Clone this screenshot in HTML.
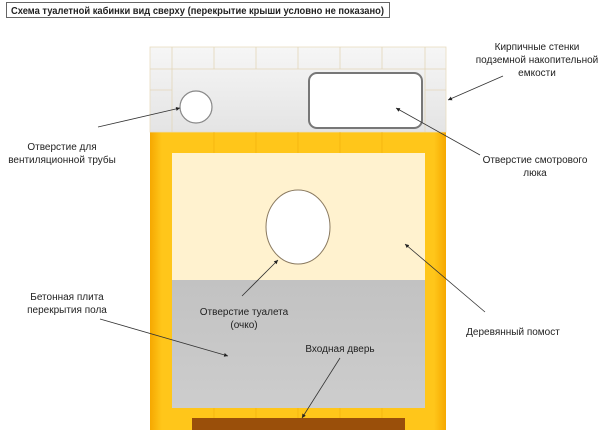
<!DOCTYPE html>
<html><head><meta charset="utf-8"><style>
body{margin:0;width:600px;height:433px;background:#fff;overflow:hidden}
svg text{font-family:"Liberation Sans",sans-serif;font-size:10px;fill:#222}
</style></head><body>
<svg width="600" height="433" xmlns="http://www.w3.org/2000/svg">
<defs>
<linearGradient id="gt" x1="0" y1="0" x2="0" y2="1"><stop offset="0" stop-color="#f6f6f6"/><stop offset="1" stop-color="#e4e4e4"/></linearGradient>
<linearGradient id="gc" x1="0" y1="0" x2="0" y2="1"><stop offset="0" stop-color="#c2c2c2"/><stop offset="1" stop-color="#cdcdcd"/></linearGradient>
<linearGradient id="go" x1="0" y1="0" x2="1" y2="0"><stop offset="0" stop-color="#f6a800"/><stop offset="0.04" stop-color="#ffc61a"/><stop offset="0.96" stop-color="#ffc61a"/><stop offset="1" stop-color="#f6a800"/></linearGradient>
<marker id="a" markerWidth="6" markerHeight="6" refX="5" refY="3" orient="auto"><path d="M0,0.5 L5,3 L0,5.5z" fill="#222"/></marker>
</defs>
<rect x="6.5" y="2.5" width="383" height="15" fill="#fff" stroke="#666"/>
<text x="11" y="14" textLength="373" lengthAdjust="spacingAndGlyphs" style="font-weight:bold;font-size:10.5px">Схема туалетной кабинки вид сверху (перекрытие крыши условно не показано)</text>
<rect x="150" y="47" width="296" height="383" fill="url(#go)"/>
<rect x="150" y="47" width="296" height="85" fill="url(#gt)" stroke="#e8dcc0" stroke-width="0.8"/>
<g stroke="#e3d6b8" stroke-width="0.8">
<line x1="150" y1="69" x2="446" y2="69"/><line x1="150" y1="90" x2="172" y2="90"/><line x1="425" y1="90" x2="446" y2="90"/>
<line x1="172" y1="47" x2="172" y2="132"/><line x1="425" y1="47" x2="425" y2="132"/>
<line x1="214" y1="47" x2="214" y2="69"/><line x1="256" y1="47" x2="256" y2="69"/><line x1="298" y1="47" x2="298" y2="69"/><line x1="340" y1="47" x2="340" y2="69"/><line x1="382" y1="47" x2="382" y2="69"/>
</g>
<g stroke="#e89e00" stroke-width="0.6" opacity="0.6">
<line x1="214" y1="132" x2="214" y2="153"/><line x1="256" y1="132" x2="256" y2="153"/><line x1="298" y1="132" x2="298" y2="153"/><line x1="340" y1="132" x2="340" y2="153"/><line x1="382" y1="132" x2="382" y2="153"/>
<line x1="214" y1="408" x2="214" y2="418"/><line x1="256" y1="408" x2="256" y2="418"/><line x1="298" y1="408" x2="298" y2="418"/><line x1="340" y1="408" x2="340" y2="418"/><line x1="382" y1="408" x2="382" y2="418"/>
</g>
<rect x="172" y="153" width="253" height="127" fill="#fff2cf"/>
<rect x="172" y="280" width="253" height="128" fill="url(#gc)"/>
<rect x="192" y="418" width="213" height="12" fill="#9a4f0a"/>
<circle cx="196" cy="107" r="16" fill="#fff" stroke="#888" stroke-width="1.2"/>
<rect x="309" y="73" width="113" height="55" rx="8" fill="#fff" stroke="#777" stroke-width="2"/>
<ellipse cx="298" cy="227" rx="32" ry="37" fill="#fff" stroke="#8a7a60" stroke-width="1"/>
<g stroke="#333" stroke-width="0.8" fill="none" marker-end="url(#a)">
<line x1="98" y1="127" x2="180" y2="108"/>
<line x1="503" y1="76" x2="448" y2="100"/>
<line x1="480" y1="155" x2="396" y2="108"/>
<line x1="485" y1="312" x2="405" y2="244"/>
<line x1="242" y1="296" x2="278" y2="260"/>
<line x1="100" y1="319" x2="228" y2="356"/>
<line x1="340" y1="358" x2="302" y2="418"/>
</g>
<g text-anchor="middle">
<text x="62" y="150">Отверстие для</text><text x="62" y="163">вентиляционной трубы</text>
<text x="537" y="50">Кирпичные стенки</text><text x="537" y="63">подземной накопительной</text><text x="537" y="76">емкости</text>
<text x="535" y="163">Отверстие смотрового</text><text x="535" y="176">люка</text>
<text x="513" y="335">Деревянный помост</text>
<text x="244" y="315">Отверстие туалета</text><text x="244" y="328">(очко)</text>
<text x="67" y="300">Бетонная плита</text><text x="67" y="313">перекрытия пола</text>
<text x="340" y="352">Входная дверь</text>
</g>
</svg>
</body></html>
